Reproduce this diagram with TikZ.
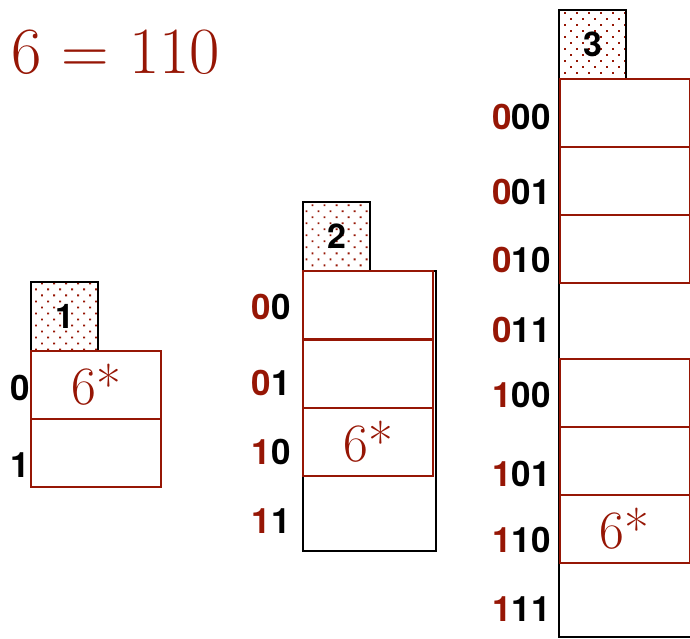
\documentclass[tikz,border=0pt]{standalone}
\usepackage{fontspec}
\setsansfont{TeX Gyre Heros}
\usepackage{tikz}
\usetikzlibrary{patterns.meta, positioning}
\definecolor{brick}{RGB}{150,22,5}
\newcommand{\hibit}[2]{\textcolor{brick}{#1}#2}

\begin{document}
\begin{tikzpicture}[x=1pt, y=-1pt,
    bucket/.style={draw=brick, line width=2pt, minimum width=130pt, minimum height=68pt,
        inner sep=0pt, outer sep=0pt, text=brick, font=\fontsize{54}{54}\selectfont},
    depth/.style={draw=black, line width=1.6pt, minimum width=67pt, minimum height=69pt,
        inner sep=0pt, outer sep=0pt, pattern={Dots[distance=8.5pt, radius=1.3pt, angle=45]},
        pattern color=brick, font=\sffamily\bfseries\fontsize{34}{34}\selectfont},
    bits/.style={anchor=east, inner sep=0pt, font=\sffamily\bfseries\fontsize{35}{35}\selectfont}]
    \useasboundingbox (0,0) rectangle (690,638);

    \node[text=brick, font=\fontsize{66}{66}\selectfont] (eq) at (116,52) {6 = 110};

    % depth 1
    \node[depth] (ld1) at (64.5,316.5) {1};
    \node[bucket] (b1a) at (96,385) {6*};
    \node[bucket] (b1b) at (96,453) {};
    \node[bits] (k1a) at (30,388) {0};
    \node[bits] (k1b) at (30,465) {1};

    % depth 2
    \node[depth] (ld2) at (336.5,236.5) {2};
    \node[draw, line width=1.6pt, minimum width=133pt, minimum height=280pt, inner sep=0pt] (dir2) at (369.5,411) {};
    \node[bucket] (b2a) at (368,305) {};
    \node[bucket] (b2b) at (368,373.5) {};
    \node[bucket] (b2c) at (368,442) {6*};
    \node[bits] (k2a) at (291,307) {\hibit{0}{0}};
    \node[bits] (k2b) at (291,383) {\hibit{0}{1}};
    \node[bits] (k2c) at (291,452) {\hibit{1}{0}};
    \node[bits] (k2d) at (291,521) {\hibit{1}{1}};

    % depth 3
    \node[depth] (ld3) at (592.5,44.5) {3};
    \draw[line width=1.6pt] (559,79) -- (559,637) -- (692,637);
    \node[bucket] (b3a) at (624.5,113) {};
    \node[bucket] (b3b) at (624.5,181) {};
    \node[bucket] (b3c) at (624.5,249) {};
    \node[bucket] (b3e) at (624.5,393) {};
    \node[bucket] (b3f) at (624.5,461) {};
    \node[bucket] (b3g) at (624.5,529) {6*};
    \node[bits] (k3a) at (551,117) {\hibit{0}{00}};
    \node[bits] (k3b) at (551,192) {\hibit{0}{01}};
    \node[bits] (k3c) at (551,260) {\hibit{0}{10}};
    \node[bits] (k3d) at (551,330) {\hibit{0}{11}};
    \node[bits] (k3e) at (551,395) {\hibit{1}{00}};
    \node[bits] (k3f) at (551,474) {\hibit{1}{01}};
    \node[bits] (k3g) at (551,540) {\hibit{1}{10}};
    \node[bits] (k3h) at (551,609) {\hibit{1}{11}};
\end{tikzpicture}
\end{document}
